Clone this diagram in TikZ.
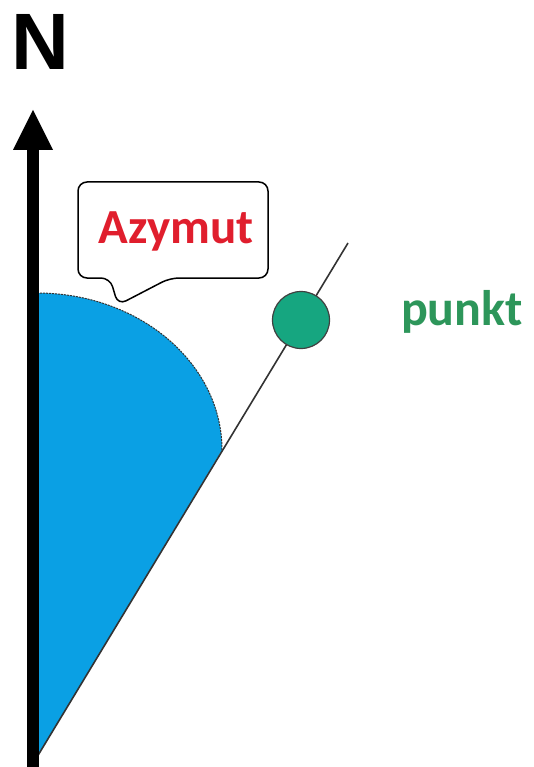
\documentclass[tikz,border=0pt]{standalone}
\usepackage{fontspec}
\setmainfont{Liberation Sans}
\newfontfamily\carlitofont{Carlito}
\definecolor{azblue}{RGB}{10,160,228}
\definecolor{ptgreen}{RGB}{22,166,128}
\definecolor{txtgreen}{RGB}{45,150,90}
\definecolor{txtred}{RGB}{224,30,45}
\begin{document}
\begin{tikzpicture}[x=1pt,y=-1pt,
  lbl/.style={inner sep=0pt,outer sep=0pt},
  thinline/.style={draw=black!80,line width=1.6pt}]
\useasboundingbox (0,0) rectangle (534,767);
% blue sector
\coordinate (V) at (37,757);
\coordinate (E) at (222,450);
\coordinate (L) at (348,243);
\fill[azblue] (V) -- (E) arc[start angle=0,end angle=-90,x radius=185,y radius=157] -- cycle;
\draw[black!80,line width=1pt,dash pattern=on 2pt off 1pt] (E) arc[start angle=0,end angle=-90,x radius=185,y radius=157];
% ray
\draw[thinline] (V) -- (L);
% point
\node[circle,fill=ptgreen,draw=black!75,line width=1.2pt,minimum size=57pt,inner sep=0pt] (P) at (301,320) {};
% axis
\coordinate (B) at (33,767);
\coordinate (T) at (33,148);
\draw[line width=12pt] (B) -- (T);
\fill (33,110) -- (13,150) -- (53,150) -- cycle;
\node[lbl,font=\fontsize{80}{80}\selectfont\bfseries,anchor=base] (N) at (40,70) {N};
% callout
\draw[line width=1.5pt,rounded corners=9pt,fill=white] (78,182) -- (268,182) -- (268,278) -- (170,278) -- (118,305) -- (110,278) -- (78,278) -- cycle;
\node[lbl,font=\carlitofont\fontsize{49}{49}\selectfont\bfseries,text=txtred,anchor=base] (A) at (176,243) {Azymut};
% label
\node[lbl,font=\carlitofont\fontsize{50}{50}\selectfont\bfseries,text=txtgreen,anchor=base west] (PT) at (401,325) {punkt};
\end{tikzpicture}
\end{document}
